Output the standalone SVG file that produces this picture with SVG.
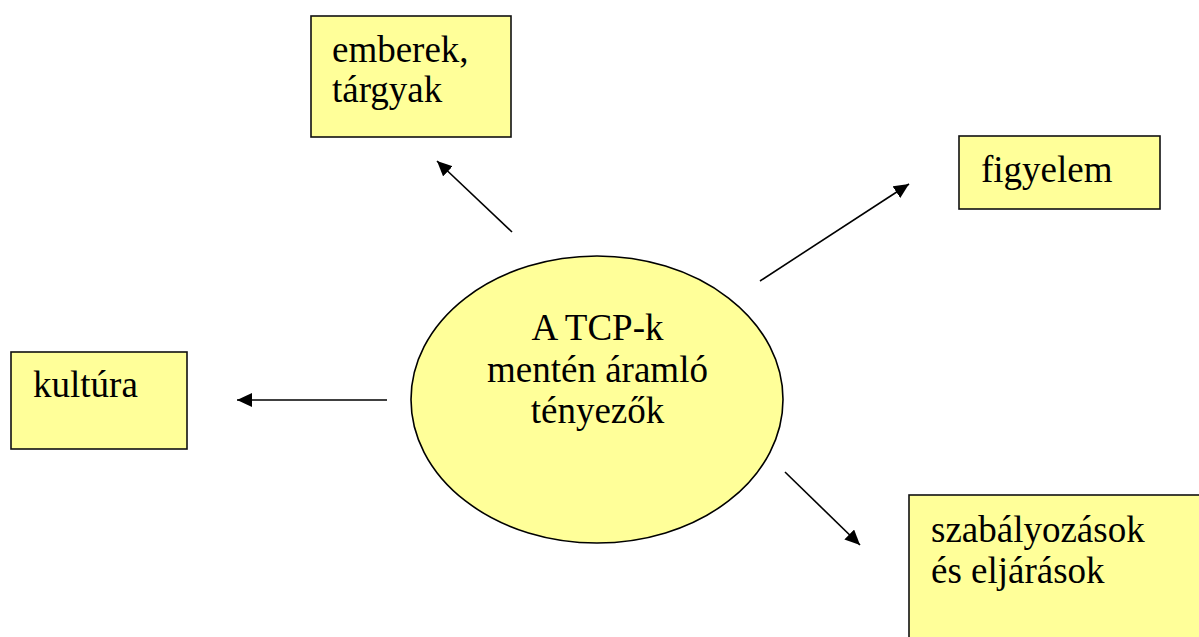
<svg xmlns="http://www.w3.org/2000/svg" width="1199" height="637" viewBox="0 0 1199 637">
<style>
.box{fill:#FFFF99;stroke:#111;stroke-width:1.6}
text{font-family:'Liberation Serif','Times New Roman',Times,serif;font-size:37px;fill:#000}
.c{stroke:#000;stroke-width:1.6;fill:none}
</style>
<defs>
<marker id="ah" markerUnits="userSpaceOnUse" markerWidth="16" markerHeight="15" refX="15" refY="7" orient="auto">
<path d="M0,0 L15,7 L0,14 z" fill="#000"/>
</marker>
</defs>
<rect width="1199" height="637" fill="#fff"/>
<g id="connectors">
<line class="c" x1="512" y1="232" x2="437" y2="161" marker-end="url(#ah)"/>
<line class="c" x1="760" y1="281" x2="909" y2="184" marker-end="url(#ah)"/>
<line class="c" x1="387" y1="400" x2="237" y2="400" marker-end="url(#ah)"/>
<line class="c" x1="785" y1="472" x2="860" y2="545" marker-end="url(#ah)"/>
</g>
<g id="center" font-family="Liberation Serif, serif">
<ellipse cx="597" cy="399.5" rx="186" ry="143.5" fill="#FFFF99" stroke="#000" stroke-width="1.6"/>
<text text-anchor="middle" x="597.5" y="340">A TCP-k</text>
<text text-anchor="middle" x="597.5" y="382">mentén áramló</text>
<text text-anchor="middle" x="597.5" y="423">tényezők</text>
</g>
<g id="emberek">
<rect class="box" x="311" y="16" width="200" height="121"/>
<text x="332" y="62">emberek,</text>
<text x="332" y="102">tárgyak</text>
</g>
<g id="figyelem">
<rect class="box" x="959" y="136" width="201" height="73"/>
<text x="981" y="182">figyelem</text>
</g>
<g id="kultura">
<rect class="box" x="11" y="352" width="176" height="97"/>
<text x="33" y="397">kultúra</text>
</g>
<g id="szabalyozasok">
<rect class="box" x="909" y="495" width="310" height="160"/>
<text x="931" y="542">szabályozások</text>
<text x="931" y="583">és eljárások</text>
</g>
</svg>
